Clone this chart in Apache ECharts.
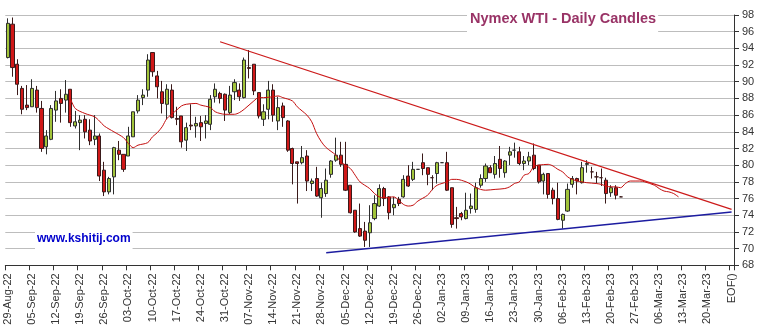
<!DOCTYPE html>
<html>
<head>
<meta charset="utf-8">
<script src="https://cdn.jsdelivr.net/npm/echarts@6/dist/echarts.min.js"></script>
<style>
  html, body { margin: 0; padding: 0; background: #fff; }
  #chart { width: 762px; height: 332px; }
</style>
</head>
<body>
<div id="chart"></div>
<script>
// Weekly tick labels (Mondays); each week holds five trading-day slots.
const weekLabels = [
  '29-Aug-22', '05-Sep-22', '12-Sep-22', '19-Sep-22', '26-Sep-22', '03-Oct-22',
  '10-Oct-22', '17-Oct-22', '24-Oct-22', '31-Oct-22', '07-Nov-22', '14-Nov-22',
  '21-Nov-22', '28-Nov-22', '05-Dec-22', '12-Dec-22', '19-Dec-22', '26-Dec-22',
  '02-Jan-23', '09-Jan-23', '16-Jan-23', '23-Jan-23', '30-Jan-23', '06-Feb-23',
  '13-Feb-23', '20-Feb-23', '27-Feb-23', '06-Mar-23', '13-Mar-23', '20-Mar-23',
  'EOF()'
];

// Daily candles from 29-Aug-22: [open, close, low, high]
const candles = [
  [92.9, 97.0, 92.8, 97.6], [96.9, 91.7, 90.6, 97.7], [92.1, 89.7, 88.4, 92.7], [89.2, 86.7, 86.1, 89.5], [87.2, 86.9, 86.6, 89.6],
  [87.0, 89.2, 87.0, 90.3], [89.0, 86.9, 86.3, 89.5], [86.8, 82.0, 81.6, 87.7], [82.2, 83.5, 81.3, 84.2], [83.1, 86.8, 83.0, 87.2],
  [86.6, 87.7, 85.2, 88.9], [88.0, 87.4, 85.1, 89.1], [87.8, 88.5, 86.3, 90.2], [89.1, 85.1, 84.6, 89.1], [84.7, 85.2, 84.4, 86.5],
  [85.1, 85.4, 81.8, 86.0], [85.5, 84.0, 83.2, 86.0], [84.2, 82.9, 82.4, 85.5], [83.1, 83.5, 82.4, 86.0], [83.5, 78.7, 78.1, 83.8],
  [79.4, 76.8, 76.3, 80.4], [76.8, 78.4, 76.5, 78.6], [78.6, 82.1, 76.5, 82.2], [81.8, 81.3, 80.6, 82.9], [81.3, 79.5, 79.2, 81.3],
  [81.1, 83.5, 81.1, 84.6], [83.4, 86.4, 83.4, 86.4], [86.5, 87.8, 86.2, 88.4], [88.1, 88.4, 87.2, 89.1], [89.0, 92.6, 88.2, 93.3],
  [93.5, 91.2, 90.6, 93.5], [90.7, 89.4, 88.0, 91.3], [88.8, 87.4, 86.2, 90.1], [87.3, 89.1, 85.5, 89.7], [89.0, 85.7, 85.6, 89.7],
  [85.6, 85.5, 84.8, 87.0], [85.9, 82.8, 82.1, 85.9], [83.0, 84.5, 81.7, 85.1], [84.8, 84.7, 84.2, 87.3], [84.7, 85.0, 83.3, 85.8],
  [85.1, 84.6, 82.9, 85.9], [85.0, 85.3, 83.2, 86.0], [84.9, 87.9, 84.2, 88.4], [88.2, 89.1, 87.5, 89.8], [88.6, 88.0, 87.4, 88.8],
  [88.5, 86.6, 85.3, 88.6], [86.3, 88.4, 86.1, 89.5], [88.8, 89.9, 87.8, 90.3], [89.0, 88.2, 87.7, 89.8], [88.1, 92.6, 88.0, 92.9],
  [91.7, 91.6, 90.4, 93.8], [92.1, 88.9, 88.4, 92.1], [88.7, 85.9, 85.6, 88.7], [85.5, 86.4, 84.7, 87.3], [86.7, 89.0, 85.5, 90.1],
  [89.0, 86.0, 85.2, 89.7], [85.3, 86.9, 84.2, 88.2], [87.1, 85.7, 84.6, 87.5], [85.3, 81.8, 81.6, 85.4], [82.0, 80.2, 77.7, 82.1],
  [80.4, 80.2, 75.4, 80.4], [80.3, 80.9, 80.1, 82.3], [81.1, 78.1, 76.9, 81.8], [77.8, 78.1, 76.9, 78.4], [78.4, 76.3, 76.2, 79.8],
  [76.1, 77.2, 73.7, 77.9], [76.6, 78.2, 76.2, 79.6], [78.9, 80.5, 78.5, 80.6], [80.6, 81.2, 80.4, 83.3], [81.2, 80.1, 79.8, 82.8],
  [80.1, 77.0, 76.9, 82.8], [77.6, 74.3, 74.2, 77.6], [74.6, 72.0, 71.9, 74.6], [72.4, 71.5, 71.4, 75.4], [72.1, 71.0, 70.2, 73.2],
  [71.9, 73.1, 70.2, 75.2], [73.6, 75.4, 73.4, 76.4], [75.1, 77.2, 75.0, 77.7], [77.2, 76.0, 75.1, 77.4], [76.2, 74.3, 73.5, 76.3],
  [74.9, 75.3, 74.0, 76.2], [75.9, 75.4, 75.1, 76.2], [76.2, 78.3, 76.1, 78.8], [78.7, 77.5, 77.4, 80.0], [78.3, 79.5, 78.1, 80.4],
  [79.5, 79.5, 79.5, 79.5], [80.3, 79.6, 78.8, 81.4], [79.7, 78.9, 77.6, 79.7], [78.5, 78.5, 77.0, 78.8], [79.0, 80.3, 77.8, 80.4],
  [80.3, 80.3, 80.3, 80.3], [80.3, 77.0, 76.9, 81.6], [77.3, 72.9, 72.5, 77.3], [73.7, 73.6, 72.4, 75.0], [74.2, 73.8, 73.4, 74.4],
  [73.6, 74.6, 73.5, 76.7], [74.8, 75.1, 74.2, 76.6], [74.7, 77.3, 74.3, 77.9], [77.6, 78.4, 77.3, 78.9], [78.4, 79.9, 78.0, 80.2],
  [79.7, 79.1, 79.1, 80.0], [78.9, 80.2, 78.4, 81.1], [80.7, 79.6, 78.5, 82.3], [79.1, 80.5, 78.5, 80.6], [81.2, 81.6, 80.0, 82.2],
  [81.8, 81.8, 80.9, 82.7], [81.6, 80.2, 80.0, 82.2], [80.2, 80.5, 79.4, 81.1], [80.5, 81.0, 80.0, 81.6], [81.2, 79.6, 79.4, 82.6],
  [80.0, 78.0, 77.8, 80.0], [78.1, 78.9, 76.5, 79.1], [79.0, 76.5, 76.0, 79.0], [77.0, 76.0, 75.3, 77.3], [76.0, 73.5, 73.4, 77.9],
  [73.4, 74.1, 72.4, 74.2], [74.5, 77.1, 74.4, 77.8], [77.7, 78.4, 77.3, 78.7], [78.4, 78.1, 76.5, 78.5], [77.9, 79.7, 77.8, 80.4],
  [80.1, 80.2, 79.1, 80.6], [79.2, 79.2, 78.4, 79.8], [78.6, 78.6, 77.8, 79.2], [78.5, 78.5, 77.5, 79.6], [78.2, 76.6, 75.4, 78.5],
  [76.7, 77.3, 76.2, 77.6], [77.3, 76.4, 75.9, 77.6], [76.2, 76.2, 76.2, 76.3]
];

// Average line: [trading-day index, value]
const averagePoints = [
  [13, 88.0], [14, 86.8], [16, 86.2], [18, 85.8], [19, 85.3], [20, 84.7], [22, 84.0], [24, 83.3],
  [25, 82.6], [26, 82.1], [27, 82.4], [29, 82.7], [30, 83.4], [31, 83.9], [32, 84.6], [33, 85.6],
  [35, 86.6], [36, 87.1], [37, 87.3], [39, 87.4], [40, 87.2], [42, 86.9], [43, 86.4], [44, 86.2],
  [45, 86.1], [47, 86.1], [48, 86.3], [49, 86.7], [51, 87.7], [52, 88.1], [53, 88.1], [55, 88.2],
  [56, 88.3], [57, 88.1], [59, 87.7], [60, 87.0], [62, 86.0], [63, 85.2], [64, 83.8], [65, 82.8],
  [66, 82.1], [68, 81.2], [69, 80.4], [71, 79.6], [72, 78.8], [73, 78.0], [75, 77.2], [76, 76.6],
  [77, 76.2], [78, 76.1], [80, 76.2], [81, 75.8], [82, 75.3], [83, 75.1], [84, 75.2], [85, 75.7],
  [87, 76.4], [88, 77.1], [89, 77.6], [91, 78.0], [92, 78.3], [93, 78.3], [95, 78.0], [96, 77.7],
  [97, 77.3], [99, 77.0], [101, 77.1], [103, 77.2], [104, 77.4], [105, 77.8], [106, 78.0], [107, 78.8],
  [108, 79.0], [109, 79.8], [110, 80.0], [112, 80.1], [113, 79.9], [114, 79.5], [115, 79.2], [116, 78.6],
  [117, 78.3], [118, 78.1], [119, 78.0], [120, 77.9], [122, 77.8], [123, 77.7], [124, 77.5], [125, 77.4],
  [126, 77.4], [127, 77.3], [128, 77.8], [129, 78.1], [131, 78.1], [132, 78.0], [134, 77.6], [135, 77.2],
  [136, 76.9], [137, 76.8], [138, 76.6], [139, 76.2]
];

// Trend lines: [trading-day index, price]
const resistanceLine = [[44, 94.8], [150, 74.7]];
const supportLine = [[66, 69.5], [150, 74.4]];

// One slot per weekday; only the Monday slot carries a printable label.
const categories = [];
weekLabels.forEach(function (w, k) {
  const days = k === weekLabels.length - 1 ? 1 : 5;
  for (let d = 0; d < days; d++) categories.push(d === 0 ? w : w + '|' + d);
});

const averageSeries = categories.map(function () { return null; });
averagePoints.forEach(function (p) { averageSeries[p[0]] = p[1]; });

const FONT = 'Liberation Sans, Arial, sans-serif';
const chart = echarts.init(document.getElementById('chart'), null, { renderer: 'canvas' });

chart.setOption({
  animation: false,
  backgroundColor: '#ffffff',
  title: [
    {
      text: 'Nymex WTI - Daily Candles',
      left: 467, top: 5,
      padding: [5, 2, 7, 3],
      backgroundColor: '#ffffff',
      textStyle: { fontFamily: FONT, fontSize: 14.5, fontWeight: 'bold', color: '#993366', lineHeight: 17 }
    },
    {
      text: 'www.kshitij.com',
      left: 35, top: 229,
      padding: [3, 2, 4, 2],
      backgroundColor: '#ffffff',
      textStyle: { fontFamily: FONT, fontSize: 12, fontWeight: 'bold', color: '#0000cc', lineHeight: 14 }
    }
  ],
  grid: { left: 5.3, right: 28, top: 15, bottom: 66.7, containLabel: false },
  xAxis: {
    type: 'category',
    data: categories,
    boundaryGap: true,
    axisLine: { show: true, lineStyle: { color: '#333333', width: 1 } },
    axisTick: { show: true, interval: 4, length: 5, lineStyle: { color: '#333333' } },
    axisLabel: {
      interval: 4, rotate: 90, margin: 8,
      fontFamily: FONT, fontSize: 11, color: '#333333',
      formatter: function (v) { return v.split('|')[0]; }
    },
    splitLine: { show: false }
  },
  yAxis: {
    type: 'value',
    position: 'right',
    min: 68, max: 98, interval: 2,
    axisLine: { show: true, lineStyle: { color: '#333333', width: 1 } },
    axisTick: { show: true, length: 5, lineStyle: { color: '#333333' } },
    axisLabel: { margin: 8, fontFamily: FONT, fontSize: 11, color: '#333333' },
    splitLine: { show: true, lineStyle: { color: '#bdbdbd', width: 1.2 } }
  },
  series: [
    {
      type: 'candlestick',
      data: candles,
      barWidth: 3.6,
      clip: false,
      itemStyle: {
        color: '#a2c43a', color0: '#d01818',
        borderColor: '#2e2e2e', borderColor0: '#3a1a1a',
        borderWidth: 1
      }
    },
    {
      type: 'line',
      data: averageSeries,
      connectNulls: true,
      symbol: 'none',
      smooth: 0.3,
      lineStyle: { color: '#c40e0e', width: 1 },
      z: 3
    },
    {
      type: 'line',
      data: resistanceLine,
      symbol: 'none',
      lineStyle: { color: '#cc1a1a', width: 1.2 },
      z: 4
    },
    {
      type: 'line',
      data: supportLine,
      symbol: 'none',
      lineStyle: { color: '#1c1ca0', width: 1.5 },
      z: 4
    }
  ]
});
</script>
</body>
</html>
